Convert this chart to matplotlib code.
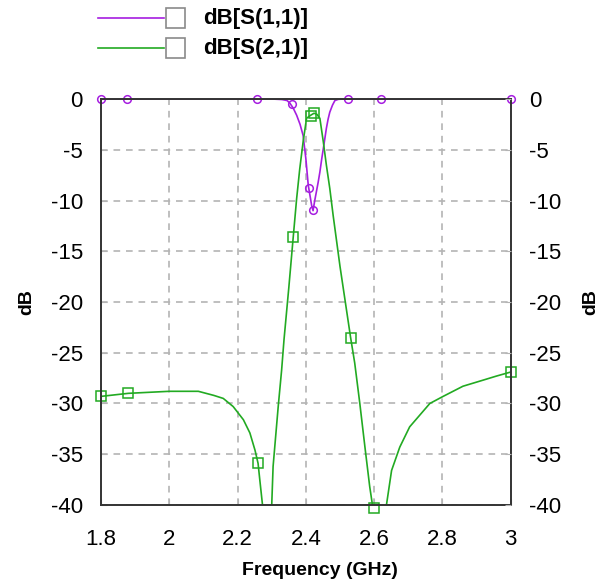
import matplotlib.pyplot as plt
from matplotlib.lines import Line2D
from matplotlib.patches import Rectangle

plt.rcParams['font.family'] = ['Liberation Sans', 'DejaVu Sans']
plt.rcParams['axes.unicode_minus'] = False

# dB[S(1,1)] curve
f11 = [1.8, 2.3, 2.33, 2.345, 2.353, 2.363, 2.373, 2.383, 2.392, 2.400, 2.407,
       2.412, 2.417, 2.421, 2.426, 2.431, 2.436, 2.441, 2.446, 2.451, 2.456,
       2.46, 2.465, 2.47, 2.478, 2.485, 2.495, 2.51, 3.0]
s11 = [0, 0, -0.05, -0.15, -0.4, -0.9, -1.6, -2.5, -3.6, -5.9, -8.5,
       -9.5, -10.5, -11.0, -10.0, -9.1, -8.2, -7.2, -6.0, -4.9, -3.8,
       -2.9, -2.0, -1.3, -0.6, -0.15, -0.03, 0, 0]
m11_f = [1.8, 1.876, 2.257, 2.36, 2.409, 2.421, 2.524, 2.619, 3.0]
m11_v = [0, 0, 0, -0.45, -8.8, -10.9, 0, 0, 0]

# dB[S(2,1)] curve
f21 = [1.8, 1.88, 2.0, 2.085, 2.13, 2.158, 2.187, 2.217, 2.236, 2.251, 2.26,
       2.265, 2.273, 2.287, 2.3, 2.304, 2.319, 2.329, 2.336, 2.35, 2.363,
       2.373, 2.382, 2.392, 2.402, 2.414, 2.424, 2.432, 2.441, 2.451, 2.46,
       2.47, 2.48, 2.5, 2.531, 2.543, 2.558, 2.573, 2.587, 2.595, 2.615,
       2.636, 2.651, 2.675, 2.704, 2.763, 2.802, 2.86, 2.919, 2.958, 3.0]
s21 = [-29.3, -29.0, -28.8, -28.8, -29.2, -29.5, -30.3, -31.6, -32.9, -34.6, -35.9,
       -37.5, -40.0, -46.0, -40.0, -36.2, -30.3, -26.7, -23.7, -18.6, -13.6,
       -9.8, -6.9, -4.2, -1.9, -1.6, -1.4, -1.5, -1.9, -4.2, -6.5,
       -8.8, -11.5, -16.5, -23.5, -26.0, -30.0, -34.3, -38.2, -40.0, -46.0,
       -40.0, -36.6, -34.3, -32.3, -30.0, -29.3, -28.3, -27.7, -27.3, -26.9]
m21_f = [1.8, 1.88, 2.26, 2.363, 2.414, 2.424, 2.531, 2.6, 3.0]
m21_v = [-29.3, -29.0, -35.9, -13.6, -1.7, -1.4, -23.5, -40.3, -26.9]

xticks = [1.8, 2, 2.2, 2.4, 2.6, 2.8, 3]
xlabels = ['1.8', '2', '2.2', '2.4', '2.6', '2.8', '3']
yticks = [0, -5, -10, -15, -20, -25, -30, -35, -40]

purple = '#a61ee0'
green = '#22aa22'

fig = plt.figure(figsize=(6.03, 5.88), dpi=100)
ax = fig.add_axes([0.1675, 0.1412, 0.6795, 0.6904])

ax.plot(f11, s11, color=purple, lw=1.2, zorder=3)
ax.plot(m11_f, m11_v, 'o', color=purple, mfc='none', ms=5.5, mew=1.1,
        clip_on=False, zorder=4)
ax.plot(f21, s21, color=green, lw=1.2, zorder=3)
ax.plot(m21_f, m21_v, 's', color=green, mfc='none', ms=6.5, mew=1.1,
        clip_on=False, zorder=4)

ax.set_xlim(1.8, 3.0)
ax.set_ylim(-40, 0)
ax.set_xticks(xticks)
ax.set_xticklabels(xlabels)
ax.set_yticks(yticks)
ax.grid(True, color='#b4b4b4', ls=(0, (4, 3.5)), lw=1.2)
for s in ax.spines.values():
    s.set_color('#333333')
    s.set_linewidth(1.4)
    s.set_zorder(5)
ax.tick_params(direction='in', length=4, color='#b4b4b4', labelsize=16,
               top=False, right=False)
ax.tick_params(axis='y', pad=13)
ax.tick_params(axis='x', pad=17)
ax.set_xlabel('Frequency (GHz)', fontsize=14, fontweight='bold', labelpad=9)
ax.xaxis.label.set_x(0.534)
ax.set_ylabel('dB', fontsize=14, fontweight='bold', labelpad=11)

ax2 = ax.twinx()
ax2.set_ylim(-40, 0)
ax2.set_yticks(yticks)
ax2.tick_params(direction='in', length=4, color='#b4b4b4', labelsize=16, pad=13)
ax2.set_ylabel('dB', fontsize=14, fontweight='bold', labelpad=15)
for s in ax2.spines.values():
    s.set_visible(False)

# legend drawn by hand (line sample, check box, label)
rows = [(0.969, purple, 'dB[S(1,1)]'), (0.918, green, 'dB[S(2,1)]')]
for yy, col, lab in rows:
    fig.add_artist(Line2D([0.163, 0.272], [yy, yy], color=col, lw=1.2))
    fig.add_artist(Rectangle((0.275, yy - 0.016), 0.032, 0.033,
                             transform=fig.transFigure, fill=False,
                             ec='#8a8a8a', lw=1.2))
    fig.text(0.337, yy, lab, fontsize=16, fontweight='bold', va='center')

fig.savefig('out.png', dpi=100)
